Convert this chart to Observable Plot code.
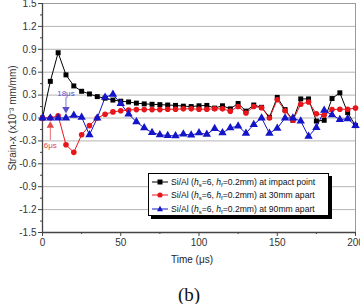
<!DOCTYPE html>
<html>
<head>
<meta charset="utf-8">
<script src="https://cdn.jsdelivr.net/npm/d3@7"></script>
<script src="https://cdn.jsdelivr.net/npm/@observablehq/plot@0.6"></script>
<style>
  html, body { margin: 0; padding: 0; background: #fff; }
  #wrap { position: relative; width: 360px; height: 304px; font-family: "Liberation Sans", Arial, sans-serif; }
  #legend {
    position: absolute; left: 148px; top: 173px; width: 181px; height: 43px;
    border: 1px solid #000; background: #fff; box-shadow: 3px 3px 0 #000;
    font-size: 8.6px; color: #111; box-sizing: border-box; padding-top: 1px;
  }
  #legend .row { display: flex; align-items: center; height: 13.6px; white-space: nowrap; }
  #legend svg { margin: 0 3px 0 3px; flex: none; }
  #legend sub { font-size: 6px; vertical-align: -2px; line-height: 0; }
  #caption { position: absolute; left: 178px; top: 284px; font-family: "Liberation Serif", "Times New Roman", serif; font-size: 19px; color: #111; }
</style>
</head>
<body>
<div id="wrap">
  <div id="chart"></div>
  <div id="legend"></div>
  <div id="caption">(b)</div>
</div>
<script>
// Sample times (μs)
const times = [0, 5, 10, 15, 20, 25, 30, 35, 40, 45, 50, 55, 60, 65, 70, 75, 80, 85, 90, 95, 100,
  105, 110, 115, 120, 125, 130, 135, 140, 145, 150, 155, 160, 165, 170, 175, 180, 185, 190, 195, 200];

// Strain-x (×10⁻³ mm/mm) at the impact point
const impactPoint = [0, 0.48, 0.855, 0.565, 0.42, 0.35, 0.315, 0.28, 0.26, 0.235, 0.22,
  0.21, 0.195, 0.185, 0.18, 0.175, 0.17, 0.165, 0.155, 0.15, 0.16,
  0.165, 0.13, 0.16, 0.12, 0.19, 0.09, 0.17, 0.14, 0.01, 0.27,
  0.11, -0.03, 0.25, 0.25, -0.04, -0.03, 0.255, 0.33, 0.07, -0.1];

// Strain-x 30 mm apart
const apart30 = [0, 0, 0.03, -0.35, -0.45, -0.22, -0.1, 0, 0.05, 0.08, 0.095,
  0.105, 0.11, 0.11, 0.11, 0.11, 0.115, 0.115, 0.12, 0.12, 0.115,
  0.115, 0.12, 0.12, 0.09, 0.15, 0.065, 0.15, 0.135, 0, 0.24,
  0.095, -0.03, 0.18, 0.21, 0.055, 0.04, 0.11, 0.115, 0.115, 0.13];

// Strain-x 90 mm apart
const apart90 = [0, 0, 0, 0, 0.035, 0.01, -0.22, 0, 0.27, 0.31, 0.19,
  0.05, -0.05, -0.13, -0.19, -0.22, -0.23, -0.235, -0.21, -0.225, -0.195,
  -0.215, -0.14, -0.195, -0.13, -0.105, -0.2, -0.085, 0, -0.2, -0.135,
  0, 0, -0.04, -0.24, -0.125, 0.1, 0.04, -0.02, -0.01, -0.1];

const seriesNames = [
  "Si/Al (<i>h</i><sub>s</sub>=6, <i>h</i><sub>f</sub>=0.2mm) at impact point",
  "Si/Al (<i>h</i><sub>s</sub>=6, <i>h</i><sub>f</sub>=0.2mm) at 30mm apart",
  "Si/Al (<i>h</i><sub>s</sub>=6, <i>h</i><sub>f</sub>=0.2mm) at 90mm apart"
];
const seriesColors = ["#000000", "#e8161c", "#1414c8"];
const seriesSymbols = ["square", "circle", "triangle"];
const seriesRadius = [2.8, 2.8, 3.1];

const yTicks = [-1.5, -1.2, -0.9, -0.6, -0.3, 0, 0.3, 0.6, 0.9, 1.2, 1.5];
const yMinor = [-1.35, -1.05, -0.75, -0.45, -0.15, 0.15, 0.45, 0.75, 1.05, 1.35];
const xTicks = [0, 50, 100, 150, 200];
const xMinor = [25, 75, 125, 175];

// Annotated onsets: arrow from tail to head at time t, label at ty
const notes = [
  {t: 15, label: "18μs", tail: 0.27, head: 0.115, ty: 0.325, color: "#5a50c8", dir: "down"},
  {t: 5, label: "6μs", tail: -0.29, head: -0.1, ty: -0.355, color: "#e0484a", dir: "up"}
];

const allSeries = [impactPoint, apart30, apart90];
const rows = allSeries.flatMap((vals, i) => vals.map((v, j) => ({t: times[j], v, s: i})));

const lineMarks = allSeries.map((_, i) =>
  Plot.line(rows.filter(d => d.s === i), {x: "t", y: "v", stroke: seriesColors[i], strokeWidth: 1})
);
const dotMarks = allSeries.map((_, i) =>
  Plot.dot(rows.filter(d => d.s === i), {
    x: "t", y: "v", symbol: () => seriesSymbols[i], fill: seriesColors[i], stroke: "none", r: seriesRadius[i]
  })
);

const fmt = d => d.toFixed(1);

const chart = Plot.plot({
  width: 360,
  height: 272,
  marginLeft: 42,
  marginRight: 5,
  marginTop: 3,
  marginBottom: 40,
  style: {fontFamily: "'Liberation Sans', Arial, sans-serif", fontSize: "10px", color: "#333", background: "#fff"},
  x: {domain: [0, 200]},
  y: {domain: [-1.5, 1.5]},
  marks: [
    Plot.gridY(yTicks, {stroke: "#b4b4b4", strokeOpacity: 1, strokeWidth: 1}),
    Plot.frame({stroke: "#9a9a9a", strokeWidth: 1}),
    Plot.axisY({ticks: yTicks, tickFormat: fmt, tickSize: 4, tickPadding: 2, stroke: "#444",
      label: "Strain-x (x10⁻³ mm/mm)", labelAnchor: "center", labelArrow: "none", labelOffset: 34, fontSize: 10}),
    Plot.axisY({ticks: yMinor, tickFormat: () => "", tickSize: 2, stroke: "#444", label: null}),
    Plot.axisX({ticks: xTicks, tickSize: 4, tickPadding: 2, stroke: "#444", label: null, fontSize: 10}),
    Plot.axisX({ticks: xMinor, tickFormat: () => "", tickSize: 2, stroke: "#444", label: null}),
    Plot.text(["Time (μs)"], {frameAnchor: "bottom", dy: 30, dx: -7, fontSize: 10, fill: "#222"}),
    Plot.ruleX([0], {stroke: "#444", strokeWidth: 1.3}),
    Plot.ruleY([-1.5], {stroke: "#444", strokeWidth: 1.3}),
    ...lineMarks,
    ...dotMarks,
    // onset annotations
    Plot.link(notes, {x1: "t", x2: "t", y1: "tail", y2: "head", stroke: "color", strokeWidth: 0.8}),
    Plot.dot(notes, {x: "t", y: "head", symbol: "triangle", fill: "color", r: 2.8,
      rotate: d => d.dir === "down" ? 180 : 0}),
    Plot.text(notes, {x: "t", y: "ty", text: "label", fill: "color", fontSize: 8})
  ]
});
document.getElementById("chart").appendChild(chart);

// Legend with line-and-marker keys
const legend = document.getElementById("legend");
seriesNames.forEach((name, i) => {
  const row = document.createElement("div");
  row.className = "row";
  const c = seriesColors[i];
  let marker;
  if (seriesSymbols[i] === "square") marker = `<rect x="5.5" y="1.5" width="5" height="5" fill="${c}"/>`;
  else if (seriesSymbols[i] === "circle") marker = `<circle cx="8" cy="4" r="2.6" fill="${c}"/>`;
  else marker = `<path d="M8,0.8 L11,6.2 L5,6.2 Z" fill="${c}"/>`;
  row.innerHTML = `<svg width="16" height="8"><line x1="0" y1="4" x2="16" y2="4" stroke="${c}" stroke-width="1"/>${marker}</svg><span>${name}</span>`;
  legend.appendChild(row);
});
</script>
</body>
</html>
